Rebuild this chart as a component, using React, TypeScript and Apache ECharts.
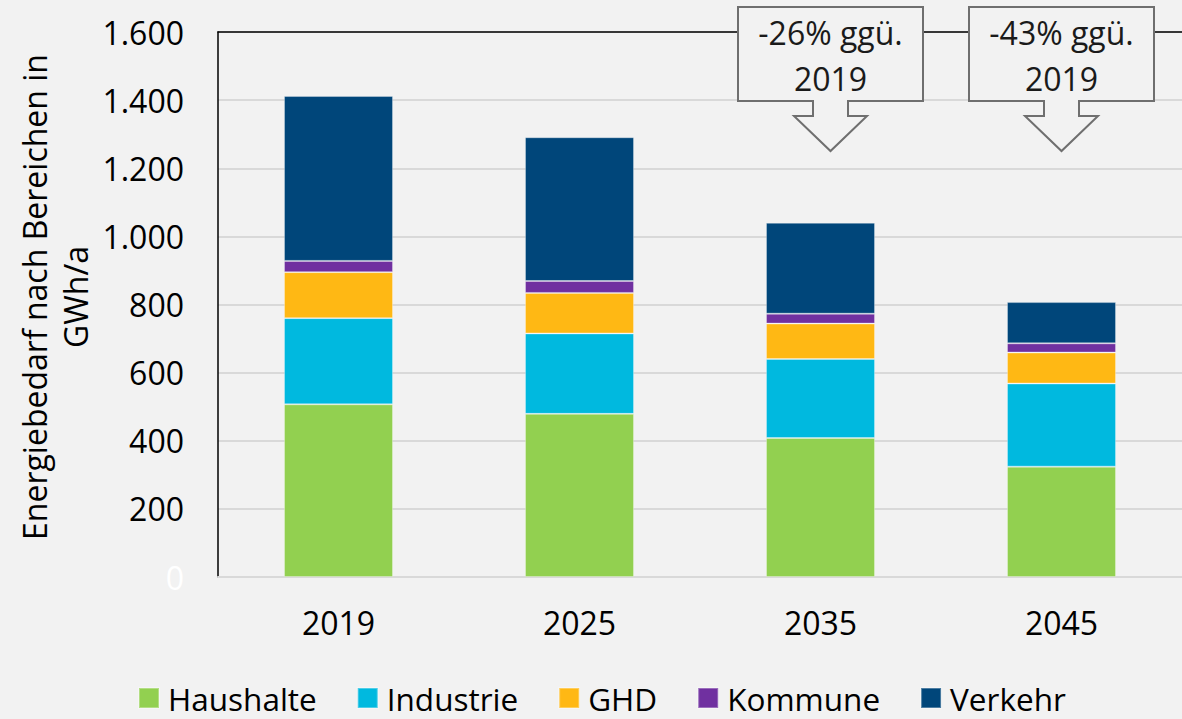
import React, { useEffect, useRef } from 'react';
import * as echarts from 'echarts';

const categories = ['2019', '2025', '2035', '2045'];
const haushalte = [507, 479, 408, 324];
const industrie = [253, 236, 232, 244];
const ghd = [135, 119, 104, 91];
const kommune = [33, 35, 29, 27];
const verkehr = [484, 422, 267, 121];
const seriesNames = ['Haushalte', 'Industrie', 'GHD', 'Kommune', 'Verkehr'];
const yAxisTitle = 'Energiebedarf nach Bereichen in\nGWh/a';
const calloutCategories = ['2035', '2045'];
const calloutTexts = ['-26% ggü.\n2019', '-43% ggü.\n2019'];

const colors = ['#92d050', '#00b9df', '#ffb814', '#7030a0', '#00467a'];
const FONT = 'Open Sans';
const FS = 32;

export default function App() {
  const ref = useRef<HTMLDivElement>(null);
  useEffect(() => {
    if (!ref.current) return;
    const chart = echarts.init(ref.current, undefined, { renderer: 'svg' });
    const seriesData = [haushalte, industrie, ghd, kommune, verkehr];
    const option: any = {
      animation: false,
      backgroundColor: '#f2f2f2',
      textStyle: { fontFamily: FONT },
      grid: { left: 218, top: 32, width: 966, height: 545, containLabel: false },
      legend: {
        left: 138,
        top: 682,
        padding: 0,
        itemWidth: 20,
        itemHeight: 20,
        itemGap: 40,
        icon: 'rect',
        data: seriesNames,
        textStyle: { fontFamily: FONT, fontSize: 31.5, lineHeight: 30, color: '#000', padding: [0, 0, 0, 4] },
      },
      xAxis: [
        {
          type: 'category',
          data: categories,
          axisLine: { show: true, lineStyle: { color: '#d9d9d9', width: 2 } },
          axisTick: { show: false },
          axisLabel: { fontFamily: FONT, fontSize: FS, color: '#000', margin: 29 },
        },
        {
          type: 'category',
          data: categories,
          position: 'top',
          axisLine: { show: true, onZero: false, lineStyle: { color: '#000', width: 1.5 } },
          axisTick: { show: false },
          axisLabel: { show: false },
        },
      ],
      yAxis: {
        type: 'value',
        min: 0,
        max: 1600,
        interval: 200,
        axisLine: { show: true, lineStyle: { color: '#000', width: 1.5 } },
        axisTick: { show: false },
        splitLine: { lineStyle: { color: '#d9d9d9', width: 2 } },
        axisLabel: {
          fontFamily: FONT,
          fontSize: FS,
          margin: 34,
          color: (v: any) => (Number(v) === 0 ? '#ffffff' : '#000000'),
          formatter: (v: number) => v.toLocaleString('de-DE'),
        },
      },
      series: seriesNames.map((name, i) => ({
        name,
        type: 'bar',
        stack: 'total',
        barWidth: 109,
        data: seriesData[i],
        itemStyle: { color: colors[i], borderColor: 'rgba(255,255,255,0.3)', borderWidth: 1 },
      })),
      graphic: [],
    };
    chart.setOption(option);

    const graphics: any[] = [
      {
        type: 'text',
        x: 55,
        y: 297,
        rotation: Math.PI / 2,
        style: {
          text: yAxisTitle,
          fontFamily: FONT,
          fontSize: FS,
          lineHeight: 41,
          fill: '#000',
          align: 'center',
          verticalAlign: 'middle',
        },
      },
    ];
    const calloutDx = [10, 0];
    calloutCategories.forEach((cat, i) => {
      const cx = (chart.convertToPixel({ xAxisIndex: 0 }, cat) as number) + calloutDx[i];
      const L = cx - 92.5, R = cx + 92.5, top = 7, bottom = 101;
      const sh = 17.5, hh = 36.5, stemEnd = 116, tip = 151;
      graphics.push({
        type: 'polygon',
        z: 100,
        shape: {
          points: [
            [L, top], [R, top], [R, bottom], [cx + sh, bottom], [cx + sh, stemEnd],
            [cx + hh, stemEnd], [cx, tip], [cx - hh, stemEnd], [cx - sh, stemEnd],
            [cx - sh, bottom], [L, bottom],
          ],
        },
        style: { fill: '#f2f2f2', stroke: '#6f6f6f', lineWidth: 2 },
      });
      graphics.push({
        type: 'text',
        z: 101,
        x: cx,
        y: 55,
        style: {
          text: calloutTexts[i],
          fontFamily: FONT,
          fontSize: FS,
          lineHeight: 46,
          fill: '#1a1a1a',
          align: 'center',
          verticalAlign: 'middle',
        },
      });
    });
    chart.setOption({ graphic: graphics });
    return () => chart.dispose();
  }, []);
  return (
    <div
      ref={ref}
      style={{ position: 'fixed', left: 0, top: 0, width: 1182, height: 719 }}
    />
  );
}
